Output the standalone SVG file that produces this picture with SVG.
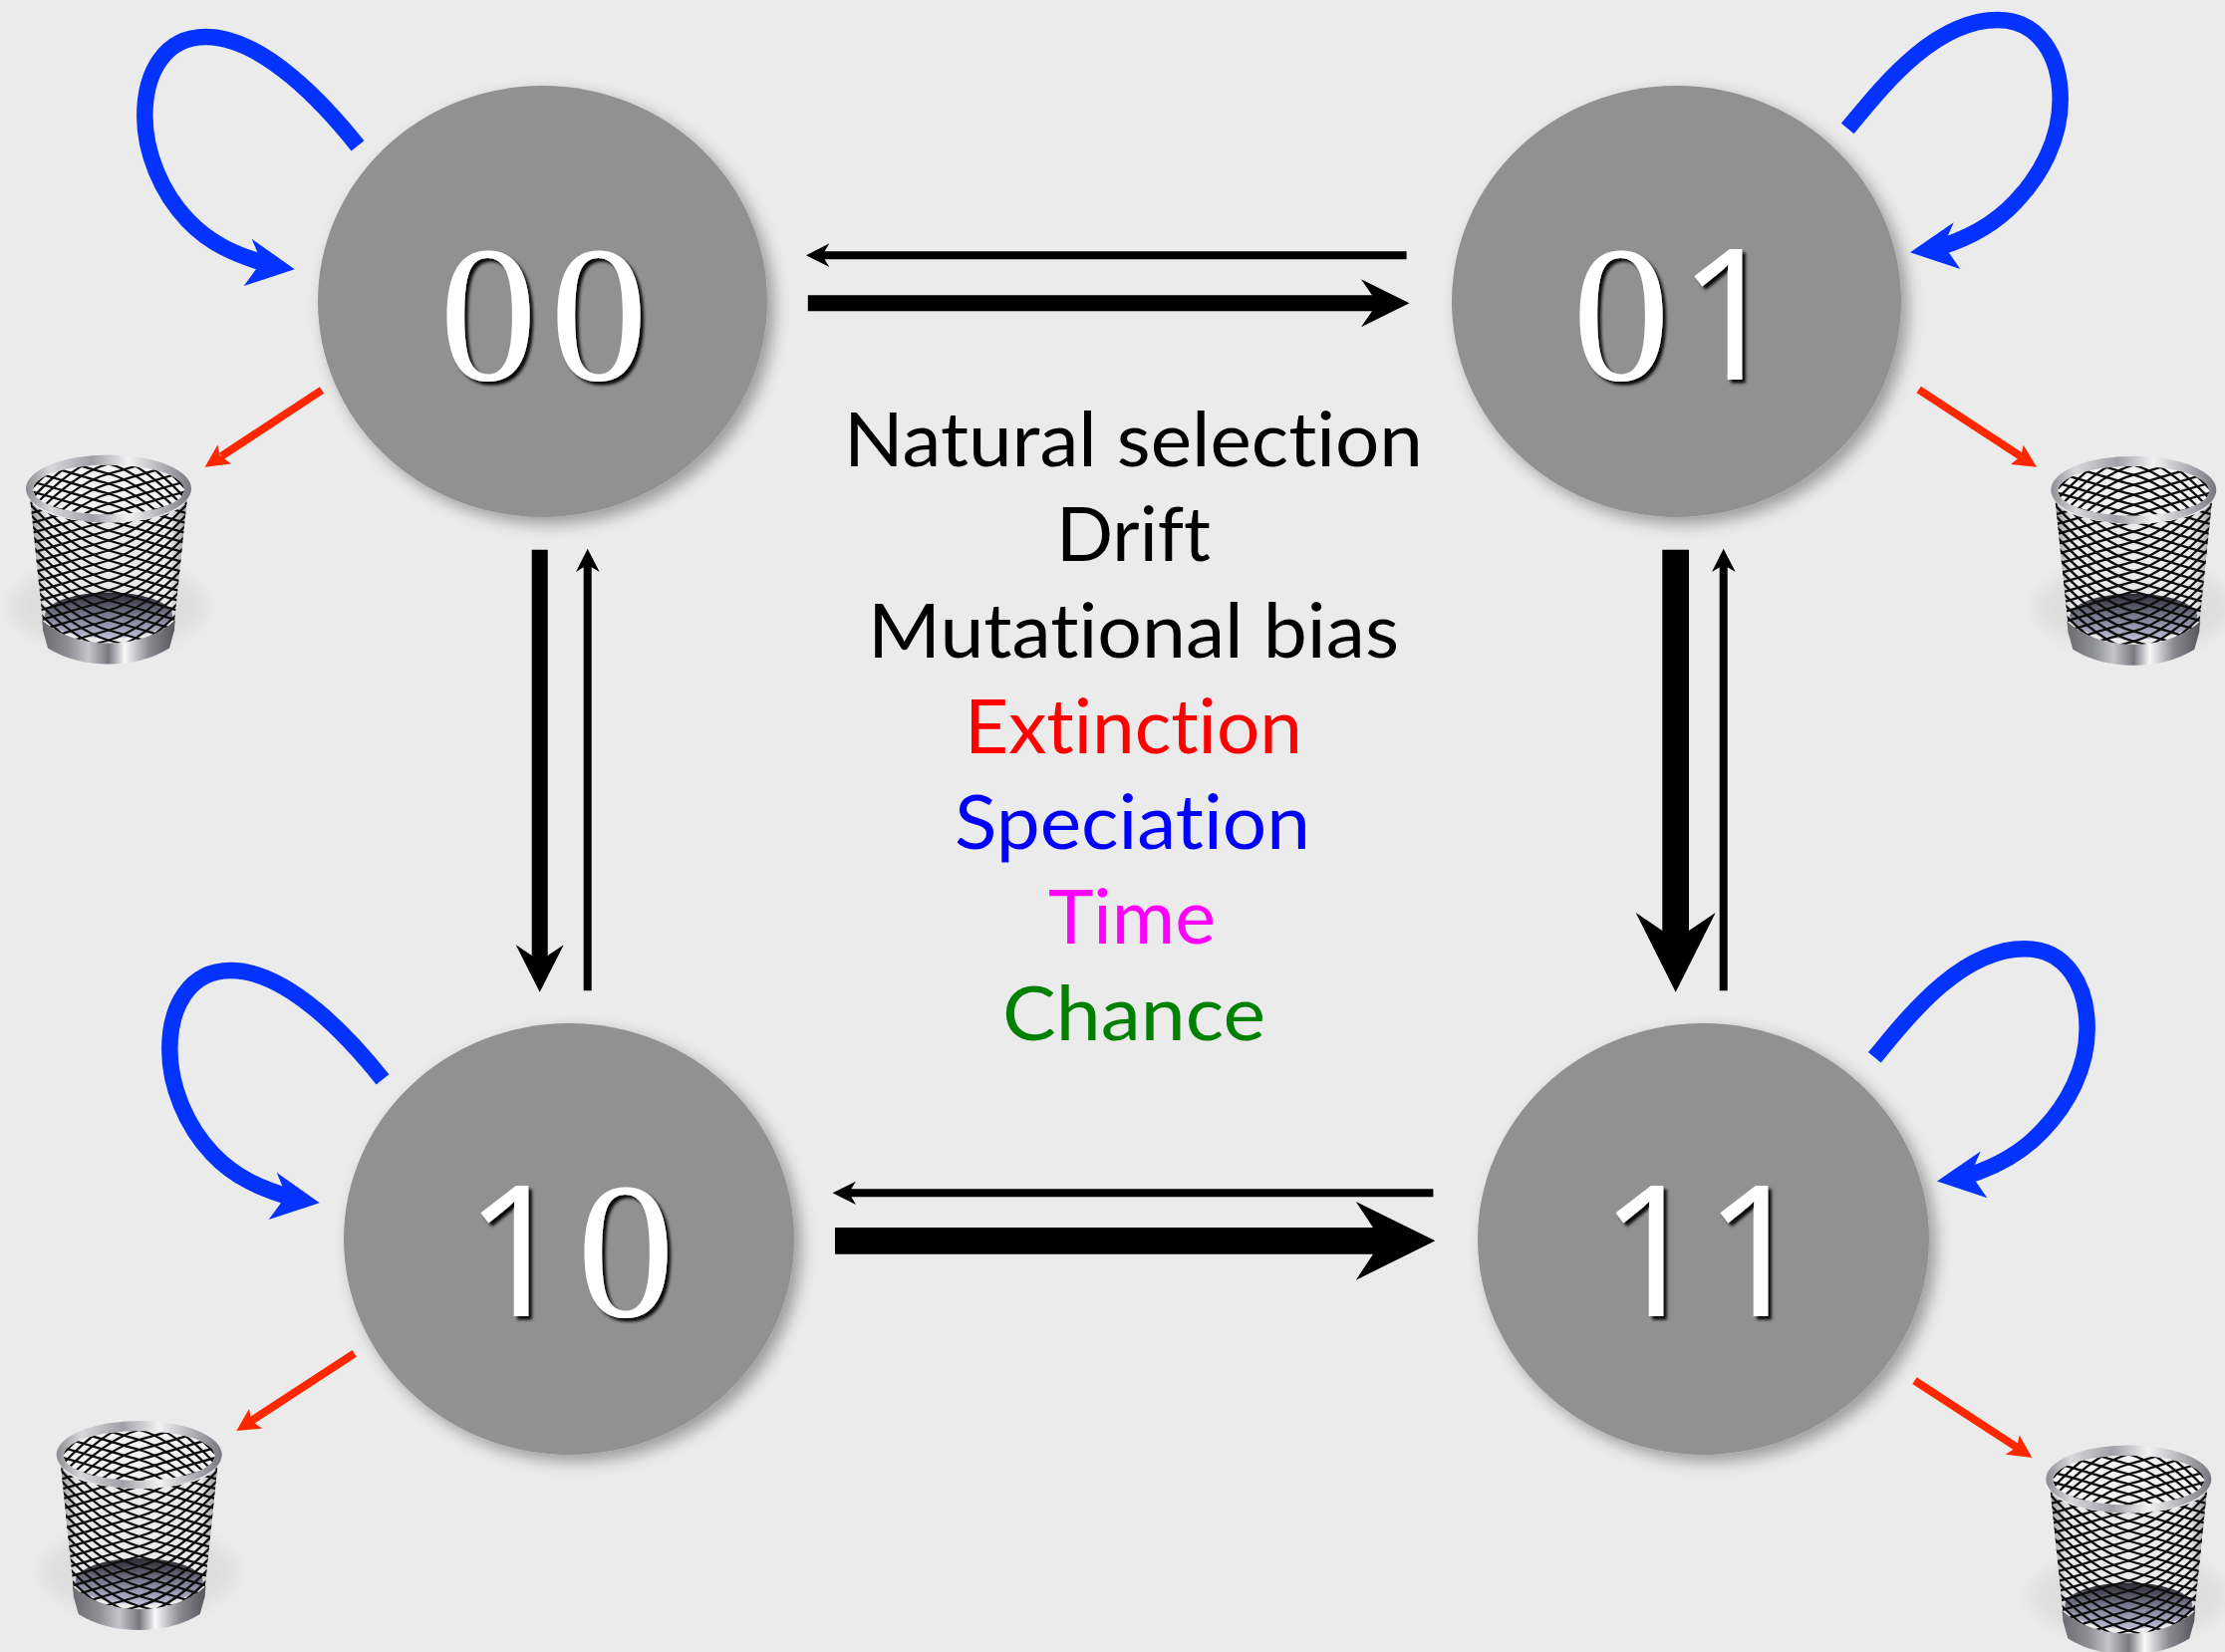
<svg xmlns="http://www.w3.org/2000/svg" width="2233" height="1658" viewBox="0 0 2233 1658">
<style>
.disc{fill:#919191;filter:url(#ds)}
.num{fill:#fff;filter:url(#ts)}
.z{font-family:"Liberation Serif",serif;font-size:196px}
.o{font-family:"Open Sans",sans-serif;font-size:183px}
.lab{font-family:"Lato","Open Sans",sans-serif;font-size:76px;font-variant-ligatures:none}
.k{fill:#000}
.b{fill:none;stroke:#0433ff;stroke-width:16.5}
.bh{fill:#0433ff}
.r{fill:none;stroke:#ff2600;stroke-width:8}
.rh{fill:#ff2600}
.w{fill:none;stroke:#101010;stroke-width:2.3}
</style>
<defs>
<filter id="ds" x="-15%" y="-15%" width="130%" height="130%"><feDropShadow dx="7" dy="7" stdDeviation="8" flood-color="#000" flood-opacity=".34"/></filter>
<filter id="ts" x="-15%" y="-15%" width="130%" height="130%"><feDropShadow dx="3.5" dy="3.5" stdDeviation="1.6" flood-color="#000" flood-opacity=".95"/></filter>
<filter id="soft" x="-10%" y="-10%" width="120%" height="120%"><feGaussianBlur stdDeviation=".7"/></filter>
<filter id="softer" x="-30%" y="-60%" width="160%" height="220%"><feGaussianBlur stdDeviation="10"/></filter>
<linearGradient id="metal" x1="0" x2="1" y1="0" y2="0"><stop offset="0" stop-color="#8c8c92"/><stop offset=".15" stop-color="#d8d8dc"/><stop offset=".4" stop-color="#a0a0a6"/><stop offset=".62" stop-color="#f2f2f4"/><stop offset=".85" stop-color="#a8a8ae"/><stop offset="1" stop-color="#77777d"/></linearGradient>
<linearGradient id="basem" x1="0" x2="1" y1="0" y2="0"><stop offset="0" stop-color="#6a6a70"/><stop offset=".2" stop-color="#8f8f96"/><stop offset=".35" stop-color="#c4c4ca"/><stop offset=".5" stop-color="#77777e"/><stop offset=".62" stop-color="#fafafa"/><stop offset=".8" stop-color="#8b8b92"/><stop offset="1" stop-color="#55555a"/></linearGradient>
<linearGradient id="side" x1="0" x2="1" y1="0" y2="0"><stop offset="0" stop-color="#000" stop-opacity=".5"/><stop offset=".14" stop-color="#000" stop-opacity="0"/><stop offset=".86" stop-color="#000" stop-opacity="0"/><stop offset="1" stop-color="#000" stop-opacity=".5"/></linearGradient>
<linearGradient id="floor" x1="0" x2="0" y1="0" y2="1"><stop offset="0" stop-color="#2a2a32"/><stop offset=".5" stop-color="#7a7a90"/><stop offset="1" stop-color="#bcbcd6"/></linearGradient>
<clipPath id="bodyc"><path d="M-79,8A79,26 0 0 0 79,8L66,134A66,22 0 0 1 -66,134Z"/></clipPath>
<clipPath id="openc"><ellipse cx="0" cy="1" rx="76" ry="25"/></clipPath>
<path id="wa" class="w" d="M-84,-60C-62,-36 -30,-6 0,2C30,10 60,20 84,26"/>
<path id="wb" class="w" d="M84,-60C62,-36 30,-6 0,2C-30,10 -60,20 -84,26"/>
<g id="m8">
<use href="#wa" y="0"/><use href="#wa" y="10"/><use href="#wa" y="20"/><use href="#wa" y="30"/><use href="#wa" y="40"/><use href="#wa" y="50"/>
<use href="#wb" y="0"/><use href="#wb" y="10"/><use href="#wb" y="20"/><use href="#wb" y="30"/><use href="#wb" y="40"/><use href="#wb" y="50"/>
</g>
<g id="mesh"><use href="#m8" y="-60"/><use href="#m8" y="0"/><use href="#m8" y="60"/><use href="#m8" y="120"/><use href="#m8" y="180"/><use href="#m8" y="240"/></g>
<g id="can">
<ellipse cx="0" cy="118" rx="98" ry="42" fill="#000" opacity=".06" filter="url(#softer)"/>
<g filter="url(#soft)">
<g clip-path="url(#openc)"><rect x="-80" y="-30" width="160" height="60" fill="#f2f2f2"/><use href="#mesh" transform="scale(1,-1) translate(0,-7)"/></g>
<g clip-path="url(#bodyc)"><rect x="-85" y="0" width="170" height="165" fill="#ebebeb"/><ellipse cx="0" cy="127" rx="64" ry="23" fill="url(#floor)"/><use href="#mesh"/><rect x="-85" y="0" width="170" height="165" fill="url(#side)"/></g>
<path d="M-67,132Q-66,137 -66,142L-61,160Q-35,176 0,176Q35,176 61,160L66,142Q66,137 67,132Q40,155 0,155Q-40,155 -67,132Z" fill="url(#basem)"/>
<path fill-rule="evenodd" d="M-83,0A83,34 0 1 1 83,0A83,34 0 1 1 -83,0ZM-76,1A76,25 0 1 0 76,1A76,25 0 1 0 -76,1Z" fill="url(#metal)"/>
</g>
</g>
</defs>
<rect width="2233" height="1658" fill="#ebebeb"/>
<g id="connectors">
<polygon class="k" points="809,256.3 832.4,244.3 827.5,252.3 1411.6,252.3 1411.6,260.3 827.5,260.3 832.4,268"/>
<polygon class="k" points="810.8,296.3 1377,296.3 1366,280.3 1414.5,304.3 1366,328.3 1377,312.3 810.8,312.3"/>
<polygon class="k" points="835.5,1197.3 859,1185.7 854.3,1193.3 1438.4,1193.3 1438.4,1201.3 854.3,1201.3 859,1209"/>
<polygon class="k" points="838,1232 1378,1232 1360.8,1206 1440.4,1245.3 1360.8,1284.7 1378,1258.7 838,1258.7"/>
<polygon class="k" points="533.7,551.7 549.7,551.7 549.7,959 565.7,948.3 541.7,995.7 517.7,948.3 533.7,959"/>
<polygon class="k" points="585.7,994.3 585.7,569.3 578,574 589.7,550.7 601.7,574 593.7,569.3 593.7,994.3"/>
<polygon class="k" points="1668.3,551.7 1695,551.7 1695,934 1721.7,916 1681.7,995.7 1641.7,916 1668.3,934"/>
<polygon class="k" points="1725.7,994.3 1725.7,569.3 1718,574 1729.7,550.7 1741.7,574 1733.7,569.3 1733.7,994.3"/>
<g id="loop-00" transform="translate(-25,-937)"><path class="b" d="M384,1083.3C353.3,1045 290,974 231.7,974C190,974 170.3,1010 170.3,1053.3C170.3,1090 186.7,1130 213.3,1158C236,1182 262,1193 296,1203"/><polygon class="bh" points="320.7,1207.3 277.7,1176.7 287.3,1200 269.7,1224"/></g>
<g id="loop-10"><path class="b" d="M384,1083.3C353.3,1045 290,974 231.7,974C190,974 170.3,1010 170.3,1053.3C170.3,1090 186.7,1130 213.3,1158C236,1182 262,1193 296,1203"/><polygon class="bh" points="320.7,1207.3 277.7,1176.7 287.3,1200 269.7,1224"/></g>
<g id="loop-01"><path class="b" d="M1854.3,129C1886.7,90 1940,20 2005,20C2046.7,20 2067.7,56.7 2067.7,100C2067.7,140 2048,176 2023.3,202C2003,224 1976,240 1940,250"/><polygon class="bh" points="1917,253.3 1960.7,223.3 1950.7,246 1967.3,270"/></g>
<g id="loop-11" transform="translate(27,932.3)"><path class="b" d="M1854.3,129C1886.7,90 1940,20 2005,20C2046.7,20 2067.7,56.7 2067.7,100C2067.7,140 2048,176 2023.3,202C2003,224 1976,240 1940,250"/><polygon class="bh" points="1917,253.3 1960.7,223.3 1950.7,246 1967.3,270"/></g>
<line class="r" x1="323" y1="391.5" x2="222" y2="458"/><polygon class="rh" points="205.6,468.8 218.4,446.4 220.5,457 232,465.6"/>
<line class="r" x1="1925.7" y1="391" x2="2028" y2="458"/><polygon class="rh" points="2044,468.7 2030.7,446.7 2028,458 2018,466"/>
<line class="r" x1="355.7" y1="1358.3" x2="252.3" y2="1426"/><polygon class="rh" points="237.3,1436 250,1414 252.3,1426 263.3,1433.7"/>
<line class="r" x1="1921.5" y1="1385.7" x2="2024" y2="1452.5"/><polygon class="rh" points="2039.4,1463 2026.7,1440.4 2024,1452.5 2012.6,1459.7"/>
</g>
<g id="node-00"><ellipse class="disc" cx="544.5" cy="302.5" rx="225.5" ry="216.5"/><text class="num z" y="380.5"><tspan x="441">0</tspan><tspan x="552">0</tspan></text></g>
<g id="node-01"><ellipse class="disc" cx="1682.5" cy="302.5" rx="225.5" ry="216.5"/><text class="num" y="380.5"><tspan class="z" x="1578">0</tspan><tspan class="o" x="1684">1</tspan></text></g>
<g id="node-10"><ellipse class="disc" cx="571" cy="1243.5" rx="226" ry="216.5"/><text class="num" y="1321"><tspan class="o" x="466">1</tspan><tspan class="z" x="579">0</tspan></text></g>
<g id="node-11"><ellipse class="disc" cx="1709.5" cy="1243.5" rx="226.5" ry="216.5"/><text class="num o" y="1320.5"><tspan x="1605">1</tspan><tspan x="1710">1</tspan></text></g>
<g id="trash-00"><use href="#can" x="109" y="490.5"/></g>
<g id="trash-01"><use href="#can" x="2141.3" y="491.7"/></g>
<g id="trash-10"><use href="#can" x="139.7" y="1460"/></g>
<g id="trash-11"><use href="#can" x="2136.3" y="1484.5"/></g>
<g id="legend" class="lab">
<text x="847" y="468" textLength="581" lengthAdjust="spacingAndGlyphs" fill="#000">Natural selection</text>
<text x="1060" y="563" textLength="155" lengthAdjust="spacingAndGlyphs" fill="#000">Drift</text>
<text x="871" y="660" textLength="533" lengthAdjust="spacingAndGlyphs" fill="#000">Mutational bias</text>
<text x="968" y="756" textLength="339" lengthAdjust="spacingAndGlyphs" fill="#ff0000">Extinction</text>
<text x="958" y="852" textLength="357" lengthAdjust="spacingAndGlyphs" fill="#0000ff">Speciation</text>
<text x="1052" y="947" textLength="168" lengthAdjust="spacingAndGlyphs" fill="#ff00ff">Time</text>
<text x="1006" y="1044" textLength="264" lengthAdjust="spacingAndGlyphs" fill="#008000">Chance</text>
</g>
</svg>
